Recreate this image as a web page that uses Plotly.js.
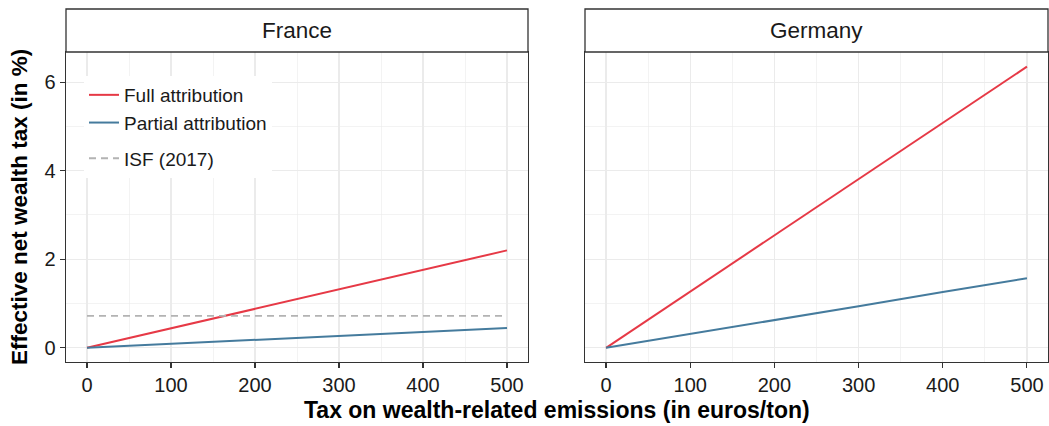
<!DOCTYPE html>
<html>
<head>
<meta charset="utf-8">
<script src="https://cdn.plot.ly/plotly-3.0.1.min.js"></script>
<style>html,body{margin:0;padding:0;background:#fff;}#chart{width:1049px;height:426px;}</style>
</head>
<body>
<div id="chart"></div>
<script>
// Data
const taxLevels = [0, 100, 200, 300, 400, 500];
const franceFull = [0, 0.44, 0.88, 1.32, 1.76, 2.2];
const francePartial = [0, 0.09, 0.18, 0.27, 0.36, 0.45];
const germanyFull = [0, 1.27, 2.54, 3.81, 5.08, 6.35];
const germanyPartial = [0, 0.31, 0.63, 0.94, 1.26, 1.57];
const isfX = [0, 500];
const isfY = [0.72, 0.72];
const panels = ["France", "Germany"];
const seriesNames = ["Full attribution", "Partial attribution", "ISF (2017)"];
const xTicks = [0, 100, 200, 300, 400, 500];
const yTicks = [0, 2, 4, 6];

const RED = "#E63946", BLUE = "#457B9D", GREY = "#B3B3B3";
const FONT = "Liberation Sans, Arial, Helvetica, sans-serif";
const TXT = "#1a1a1a";

const traces = [
  {x: taxLevels, y: franceFull, xaxis: "x", yaxis: "y", mode: "lines", name: seriesNames[0],
   line: {color: RED, width: 2}, legendgroup: "a"},
  {x: taxLevels, y: francePartial, xaxis: "x", yaxis: "y", mode: "lines", name: seriesNames[1],
   line: {color: BLUE, width: 2}, legendgroup: "a"},
  {x: isfX, y: isfY, xaxis: "x", yaxis: "y", mode: "lines", name: seriesNames[2],
   line: {color: GREY, width: 1.8, dash: "7px,5px"}, legendgroup: "b"},
  {x: taxLevels, y: germanyFull, xaxis: "x2", yaxis: "y2", mode: "lines", name: seriesNames[0],
   line: {color: RED, width: 2}, showlegend: false},
  {x: taxLevels, y: germanyPartial, xaxis: "x2", yaxis: "y2", mode: "lines", name: seriesNames[1],
   line: {color: BLUE, width: 2}, showlegend: false}
];

const yBot = 1 - 362/426, yTop = 1 - 52/426, sTop = 1 - 9/426;
const d1 = [66/1049, 528/1049], d2 = [585/1049, 1048/1049];

function xa(domain, anchor) {
  return {
    domain: domain, anchor: anchor, range: [-25, 525],
    tickvals: xTicks, ticktext: xTicks.map(String),
    ticks: "outside", ticklen: 5, tickwidth: 1.1, tickcolor: "#333",
    tickfont: {size: 20, color: TXT, family: FONT},
    showgrid: true, gridcolor: "#EBEBEB", gridwidth: 1.2,
    minor: {dtick: 50, tick0: 0, showgrid: true, gridcolor: "#EBEBEB", gridwidth: 0.6, ticks: ""},
    zeroline: false, showline: true, mirror: true, linecolor: "#333", linewidth: 1.3
  };
}
function ya(domain, anchor, showLabels) {
  return {
    domain: domain, anchor: anchor, range: [-0.32, 6.68],
    tickvals: yTicks, ticktext: yTicks.map(String), showticklabels: showLabels,
    ticks: showLabels ? "outside" : "", ticklen: 5, tickwidth: 1.1, tickcolor: "#333",
    tickfont: {size: 20, color: TXT, family: FONT},
    showgrid: true, gridcolor: "#EBEBEB", gridwidth: 1.2,
    minor: {dtick: 1, tick0: 1, showgrid: true, gridcolor: "#EBEBEB", gridwidth: 0.6, ticks: ""},
    zeroline: false, showline: true, mirror: true, linecolor: "#333", linewidth: 1.3
  };
}

const layout = {
  width: 1049, height: 426,
  margin: {l: 0, r: 0, t: 0, b: 0},
  paper_bgcolor: "#fff", plot_bgcolor: "#fff",
  font: {family: FONT, color: TXT},
  showlegend: true,
  legend: {x: 84/1049, y: 1 - 76/426, xanchor: "left", yanchor: "top",
           bgcolor: "#fff", font: {size: 19, color: TXT, family: FONT},
           traceorder: "grouped", tracegroupgap: 8, itemwidth: 30},
  xaxis: xa(d1, "y"),
  yaxis: ya([yBot, yTop], "x", true),
  xaxis2: xa(d2, "y2"),
  yaxis2: ya([yBot, yTop], "x2", false),
  shapes: [
    {type: "rect", xref: "paper", yref: "paper", x0: d1[0], x1: d1[1], y0: yTop, y1: sTop,
     fillcolor: "#fff", line: {color: "#333", width: 1.3}},
    {type: "rect", xref: "paper", yref: "paper", x0: d2[0], x1: d2[1], y0: yTop, y1: sTop,
     fillcolor: "#fff", line: {color: "#333", width: 1.3}}
  ],
  annotations: [
    {text: panels[0], xref: "paper", yref: "paper", x: (d1[0]+d1[1])/2, y: (yTop+sTop)/2,
     xanchor: "center", yanchor: "middle",
     showarrow: false, font: {size: 22.5, color: TXT, family: FONT}},
    {text: panels[1], xref: "paper", yref: "paper", x: (d2[0]+d2[1])/2, y: (yTop+sTop)/2,
     xanchor: "center", yanchor: "middle",
     showarrow: false, font: {size: 22.5, color: TXT, family: FONT}},
    {text: "<b>Tax on wealth-related emissions (in euros/ton)</b>", xref: "paper", yref: "paper",
     x: 557/1049, y: 1 - 410/426, xanchor: "center", yanchor: "middle",
     showarrow: false, font: {size: 23, color: "#000", family: FONT}},
    {text: "<b>Effective net wealth tax (in %)</b>", xref: "paper", yref: "paper",
     x: 19/1049, y: (yBot+yTop)/2, xanchor: "center", yanchor: "middle", textangle: -90, showarrow: false,
     font: {size: 22.5, color: "#000", family: FONT}}
  ]
};

Plotly.newPlot("chart", traces, layout, {displayModeBar: false, staticPlot: true});
</script>
</body>
</html>
